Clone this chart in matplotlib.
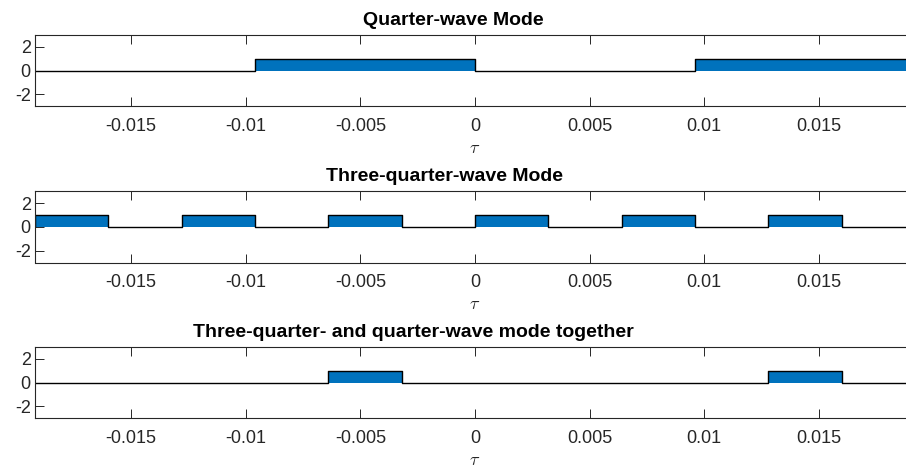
import matplotlib
matplotlib.use("Agg")
from matplotlib import pyplot as plt

plt.rcParams['font.family'] = ['Liberation Sans', 'DejaVu Sans']
plt.rcParams['mathtext.fontset'] = 'cm'
plt.rcParams['axes.unicode_minus'] = False

titles = ["Quarter-wave Mode",
          "Three-quarter-wave Mode",
          "Three-quarter- and quarter-wave mode together"]

# pulse intervals (start, end) of each square wave, height 1
quarter_starts = [-0.0096, 0.0096]
quarter_ends = [0.0, 0.0192]
three_q_starts = [-0.0192, -0.0128, -0.0064, 0.0, 0.0064, 0.0128]
three_q_ends = [-0.0160, -0.0096, -0.0032, 0.0032, 0.0096, 0.0160]
both_starts = [-0.0064, 0.0128]
both_ends = [-0.0032, 0.0160]

x_lim = [-0.0192, 0.0192]
x_ticks = [-0.015, -0.01, -0.005, 0, 0.005, 0.01, 0.015]
x_labels = ["-0.015", "-0.01", "-0.005", "0", "0.005", "0.01", "0.015"]
y_ticks = [-2, 0, 2]

blue = (0/255, 114/255, 189/255)
axcol = (0.15, 0.15, 0.15)


def step_signal(starts, ends, lo, hi):
  # turn pulse intervals into a step outline
  t = [lo]
  y = [0]
  for s, e in zip(starts, ends):
    t += [s, s, e, e]
    y += [0, 1, 1, 0]
  t.append(hi)
  y.append(0)
  return t, y


fig = plt.figure(figsize=(9.06, 4.70), dpi=100)
W, H = 906, 470
left, right = 35, 915
tops = [35, 191.5, 347]
title_left = [363, 326, 193]   # pixel x where each title starts
ax_h = 71

signals = [(quarter_starts, quarter_ends),
           (three_q_starts, three_q_ends),
           (both_starts, both_ends)]

for k in range(3):
  top = tops[k]
  ax = fig.add_axes([left / W, 1 - (top + ax_h) / H, (right - left) / W, ax_h / H])
  t, y = step_signal(signals[k][0], signals[k][1], -0.03, 0.03)
  ax.fill_between(t, y, 0, color=blue, linewidth=0)
  ax.plot(t, y, color='black', linewidth=1.0)
  ax.set_xlim(x_lim)
  ax.set_ylim(-3, 3)
  ax.set_xticks(x_ticks)
  ax.set_xticklabels(x_labels)
  ax.set_yticks(y_ticks)
  ax.tick_params(direction='in', top=True, right=True, length=6.5,
                 width=0.7, colors=axcol, labelsize=13, pad=8.5)
  ax.tick_params(axis='y', pad=3)
  for sp in ax.spines.values():
    sp.set_color(axcol)
    sp.set_linewidth(0.8)
  ax.set_xlabel(r"$\tau$", fontsize=13, color=axcol, labelpad=3.5)
  fig.text(title_left[k] / W, 1 - (top - 10.3) / H, titles[k], fontsize=14,
           fontweight='bold', color='black', ha='left', va='baseline')

fig.savefig("out.png", dpi=100)
